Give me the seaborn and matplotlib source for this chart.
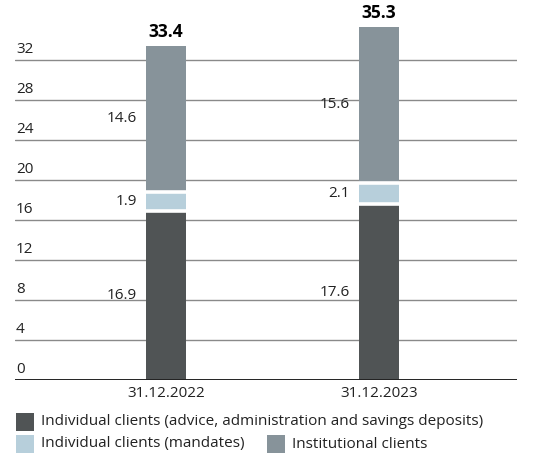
import matplotlib
matplotlib.use("Agg")
import matplotlib.pyplot as plt
import seaborn as sns
import numpy as np
from matplotlib.patches import Rectangle
from matplotlib.transforms import blended_transform_factory

categories = ["31.12.2022", "31.12.2023"]
individual_advice = [16.9, 17.6]
individual_mandates = [1.9, 2.1]
institutional = [14.6, 15.6]
totals = [33.4, 35.3]
yticks = [0, 4, 8, 12, 16, 20, 24, 28, 32]
series_names = ["Individual clients (advice, administration and savings deposits)",
                "Individual clients (mandates)", "Institutional clients"]
colors = ["#505455", "#b7cfdb", "#87939a"]

sns.set_theme(style="white")
plt.rcParams['font.family'] = ['Open Sans', 'DejaVu Sans']

FS = 11
W, H = 533, 462
fig = plt.figure(figsize=(W / 100, H / 100), dpi=100)
ax = fig.add_axes([15 / W, (H - 380) / H, (517 - 15) / W, 360 / H])

BW = 0.19
bottoms = np.zeros(len(categories))
layers = [individual_advice, individual_mandates, institutional]
for li, (vals, col) in enumerate(zip(layers, colors)):
    sns.barplot(x=categories, y=vals, bottom=bottoms, color=col, width=BW,
                linewidth=0, ax=ax, saturation=1, zorder=3)
    for xi, (v, b) in enumerate(zip(vals, bottoms)):
        ax.text(xi - 0.135, b + v / 2, f"{v:.1f}", ha="right", va="center",
                fontsize=FS, color="#222222")
    bottoms = bottoms + np.array(vals)
    if li < len(layers) - 1:
        for xi, b in enumerate(bottoms):
            ax.hlines(b, xi - BW / 2, xi + BW / 2, color="white", linewidth=2.6, zorder=5)

for xi, t in enumerate(totals):
    ax.text(xi, t + 0.55, f"{t:.1f}", ha="center", va="bottom", fontsize=12.5,
            fontweight="bold", color="black")

ax.set_xlim(-0.709, 1.648)
ax.set_ylim(0, 36)
for s in ax.spines.values():
    s.set_visible(False)
ax.set_yticks([])
for yt in yticks[1:]:
    ax.axhline(yt, color="#8a8a8a", linewidth=1.0, zorder=1)
ax.axhline(0, color="#222222", linewidth=1.4, zorder=4)
tr = blended_transform_factory(ax.transAxes, ax.transData)
for yt in yticks:
    ax.text(0.002, yt + 0.3, str(yt), transform=tr, ha="left", va="bottom",
            fontsize=FS, color="#222222")
ax.tick_params(axis="x", length=0, pad=4, labelsize=FS, labelcolor="#222222")
ax.set_xlabel("")
ax.set_ylabel("")

def legend_item(x, yc, color, label):
    fig.add_artist(Rectangle((x / W, (H - yc - 9) / H), 18 / W, 18 / H,
                             transform=fig.transFigure, facecolor=color, edgecolor="none"))
    fig.text((x + 25) / W, (H - yc) / H, label, ha="left", va="center",
             fontsize=FS, color="#222222")

legend_item(16, 421.5, colors[0], series_names[0])
legend_item(16, 444, colors[1], series_names[1])
legend_item(267, 444, colors[2], series_names[2])

fig.savefig("out.png", dpi=100)
